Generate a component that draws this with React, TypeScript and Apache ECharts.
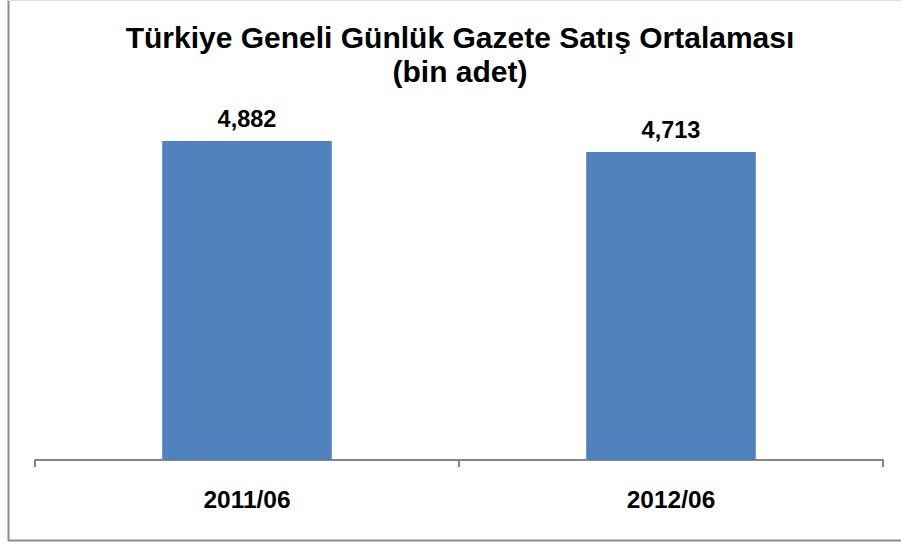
import React, { useEffect, useRef } from "react";
import * as echarts from "echarts";

const categories = ["2011/06", "2012/06"];
const values = [4882, 4713];
const titleLines = ["Türkiye Geneli Günlük Gazete Satış Ortalaması", "(bin adet)"];

const FONT = "Liberation Sans, Arial, sans-serif";

export default function App() {
  const ref = useRef<HTMLDivElement>(null);
  useEffect(() => {
    if (!ref.current) return;
    const chart = echarts.init(ref.current, undefined, { renderer: "svg" });
    chart.setOption({
      animation: false,
      backgroundColor: "#ffffff",
      title: {
        text: titleLines.join("\n"),
        left: 455,
        textAlign: "center",
        top: 15,
        textStyle: {
          fontFamily: FONT,
          fontWeight: "bold",
          fontSize: 30,
          lineHeight: 34,
          color: "#000",
        },
      },
      grid: { left: 35, right: 18, top: 68, bottom: 86 },
      xAxis: {
        type: "category",
        data: categories,
        axisLine: { lineStyle: { color: "#868686", width: 2 } },
        axisTick: { show: true, length: 7, lineStyle: { color: "#868686", width: 2 } },
        axisLabel: {
          margin: 27,
          fontFamily: FONT,
          fontWeight: "bold",
          fontSize: 24.5,
          lineHeight: 24,
          color: "#000",
        },
      },
      yAxis: { type: "value", min: 0, max: 6000, show: false, splitLine: { show: false } },
      series: [
        {
          type: "bar",
          data: values,
          barWidth: "40%",
          itemStyle: { color: "#4F81BD" },
          label: {
            show: true,
            position: "top",
            distance: 10,
            formatter: (p: any) => p.value.toLocaleString("en-US"),
            fontFamily: FONT,
            fontWeight: "bold",
            fontSize: 23.5,
            lineHeight: 24,
            color: "#000",
          },
        },
      ],
      graphic: [
        { type: "line", shape: { x1: 8.5, y1: 0, x2: 8.5, y2: 541 }, style: { stroke: "#8c8c8c", lineWidth: 2 } },
        { type: "line", shape: { x1: 8, y1: 540.5, x2: 901, y2: 540.5 }, style: { stroke: "#8c8c8c", lineWidth: 2 } },
        { type: "line", shape: { x1: 8, y1: 0.5, x2: 901, y2: 0.5 }, style: { stroke: "#dcdcdc", lineWidth: 1 } },
      ],
    });
    return () => chart.dispose();
  }, []);
  return <div ref={ref} style={{ position: "absolute", left: 0, top: 0, width: 901, height: 546 }} />;
}
